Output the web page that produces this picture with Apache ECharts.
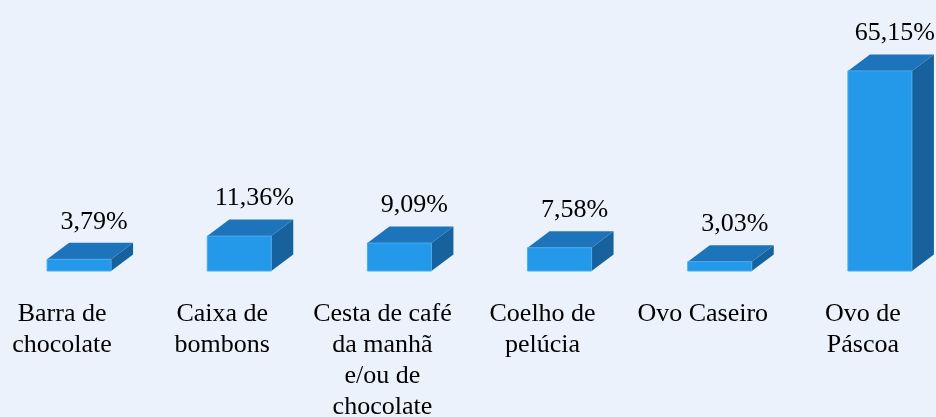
<!DOCTYPE html>
<html>
<head>
<meta charset="utf-8">
<script src="https://cdn.jsdelivr.net/npm/echarts@6/dist/echarts.min.js"></script>
<style>
  html, body { margin: 0; padding: 0; background: #ebf2fc; }
  #chart { width: 936px; height: 417px; }
</style>
</head>
<body>
<div id="chart"></div>
<script>
var categories = ['Barra de\nchocolate', 'Caixa de\nbombons', 'Cesta de café\nda manhã\ne/ou de\nchocolate', 'Coelho de\npelúcia', 'Ovo Caseiro', 'Ovo de\nPáscoa'];
var values = [3.79, 11.36, 9.09, 7.58, 3.03, 65.15];

var FONT = '"Liberation Serif", "Times New Roman", serif';
var BAR_W = 64;      // front face width
var SHIFT = 17;      // front face offset from category centre
var DX = 22, DY = -16.5; // depth of the box

function fmt(v) {
    return v.toFixed(2).replace('.', ',') + '%';
}

var chart = echarts.init(document.getElementById('chart'));
chart.setOption({
    backgroundColor: '#ebf2fc',
    animation: false,
    grid: { left: -18, right: -7, top: 56, bottom: 146, containLabel: false, outerBoundsMode: 'none' },
    xAxis: {
        type: 'category',
        data: categories,
        axisLine: { show: false },
        axisTick: { show: false },
        axisLabel: {
            interval: 0,
            margin: 28,
            color: '#000',
            fontFamily: FONT,
            fontSize: 26,
            lineHeight: 31,
            align: 'center'
        }
    },
    yAxis: { type: 'value', min: 0, max: 70, show: false, splitLine: { show: false } },
    series: [{
        type: 'custom',
        data: values.map(function (v, i) { return [i, v]; }),
        encode: { x: 0, y: 1 },
        renderItem: function (params, api) {
            var base = api.coord([api.value(0), 0]);
            var top = api.coord([api.value(0), api.value(1)]);
            var x0 = base[0] + SHIFT - BAR_W / 2;
            var x1 = x0 + BAR_W;
            var yt = top[1], yb = base[1];
            return {
                type: 'group',
                children: [
                    {
                        type: 'polygon',
                        shape: { points: [[x1, yt], [x1 + DX, yt + DY], [x1 + DX, yb + DY], [x1, yb]] },
                        style: { fill: '#17629c' }
                    },
                    {
                        type: 'polygon',
                        shape: { points: [[x0, yt], [x0 + DX, yt + DY], [x1 + DX, yt + DY], [x1, yt]] },
                        style: { fill: '#1e74ba' }
                    },
                    {
                        type: 'rect',
                        shape: { x: x0, y: yt, width: BAR_W, height: yb - yt },
                        style: { fill: '#2499e9', stroke: '#49aaee', lineWidth: 1 }
                    },
                    {
                        type: 'text',
                        x: x0 + (BAR_W + DX) / 2 + 4,
                        y: yt + DY - 21,
                        style: {
                            text: fmt(api.value(1)),
                            fill: '#000',
                            font: '26px ' + FONT,
                            align: 'center',
                            verticalAlign: 'middle'
                        }
                    }
                ]
            };
        }
    }]
});
</script>
</body>
</html>
